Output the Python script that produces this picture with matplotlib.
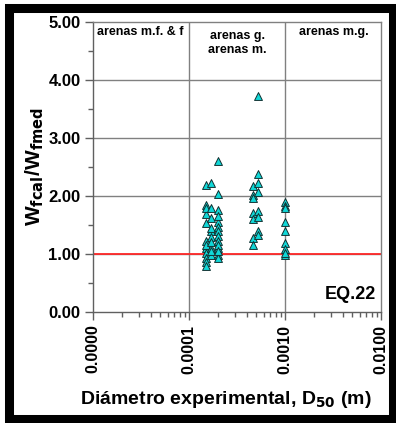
import matplotlib
matplotlib.use("Agg")
import matplotlib.pyplot as plt
from matplotlib.patches import Rectangle
from matplotlib.ticker import LogLocator, NullFormatter, FixedLocator
import numpy as np

plt.rcParams['font.family'] = ['Liberation Sans', 'DejaVu Sans']

# data: D50 (m) and Wfcal/Wfmed
d50_a = [1.5e-4] * 12
r_a = [2.19, 1.85, 1.69, 1.54, 1.22, 1.10, 1.02, 0.93, 0.87, 0.79, 1.80, 1.15]
d50_b = [1.7e-4] * 10
r_b = [2.23, 1.79, 1.62, 1.40, 1.30, 1.10, 0.99, 1.20, 1.45, 1.05]
d50_c = [2.0e-4] * 14
r_c = [2.61, 2.03, 1.76, 1.56, 1.47, 1.39, 1.31, 1.22, 1.10, 0.99, 0.93, 1.65, 1.15, 1.05]
d50_d = [4.6e-4] * 7
r_d = [2.18, 2.01, 1.97, 1.70, 1.61, 1.27, 1.15]
d50_e = [5.2e-4] * 8
r_e = [3.73, 2.38, 2.22, 2.07, 1.75, 1.63, 1.39, 1.33]
d50_f = [1.0e-3] * 9
r_f = [1.90, 1.82, 1.79, 1.56, 1.39, 1.19, 1.09, 0.99, 1.01]

d50 = d50_a + d50_b + d50_c + d50_d + d50_e + d50_f
ratio = r_a + r_b + r_c + r_d + r_e + r_f

xticks = [1e-5, 1e-4, 1e-3, 1e-2]
xticklabels = ["0.0000", "0.0001", "0.0010", "0.0100"]
yticks = [0, 1, 2, 3, 4, 5]
yticklabels = ["0.00", "1.00", "2.00", "3.00", "4.00", "5.00"]
zones = ["arenas m.f. & f", "arenas g.\narenas m.", "arenas m.g."]

fig = plt.figure(figsize=(3.96, 4.23), dpi=100)
ax = fig.add_axes([0.2348, 0.2624, 0.7273, 0.6856])

ax.set_xscale('log')
ax.set_xlim(1e-5, 1e-2)
ax.set_ylim(0, 5)

# grid
for yv in [1, 2, 3, 4]:
    ax.axhline(yv, color='#808080', lw=1.0, zorder=1)
for xv in [1e-4, 1e-3]:
    ax.axvline(xv, color='#808080', lw=1.0, zorder=1)
ax.axhline(1.0, color='#ff2828', lw=1.3, zorder=2)

ax.scatter(d50, ratio, marker='^', s=32, facecolor='#10d8d8',
           edgecolor='#103030', linewidths=0.7, zorder=3)

for s in ax.spines.values():
    s.set_color('#808080')
    s.set_linewidth(1.0)
ax.spines['left'].set_color('#606060')
ax.spines['bottom'].set_color('#606060')

ax.set_xticks(xticks)
ax.set_xticklabels(xticklabels, rotation=90, fontsize=11.5, fontweight='bold')
ax.xaxis.set_minor_locator(LogLocator(base=10, subs=np.arange(2, 10)))
ax.xaxis.set_minor_formatter(NullFormatter())
ax.set_yticks(yticks)
ax.set_yticklabels(yticklabels, fontsize=12, fontweight='bold')
ax.yaxis.set_minor_locator(FixedLocator([0.5, 1.5, 2.5, 3.5, 4.5]))
ax.tick_params(axis='both', which='major', direction='out', length=6,
               width=1, color='#606060', pad=3)
ax.tick_params(axis='both', which='minor', direction='out', length=3.5,
               width=1, color='#606060')

ax.set_xlabel("Diámetro experimental, D$_{\\mathbf{50}}$ (m)", fontsize=14,
              fontweight='bold', va='center')
ax.xaxis.set_label_coords(0.46, -0.30)
ax.set_ylabel("W$_{\\mathbf{fcal}}$/W$_{\\mathbf{fmed}}$", fontsize=15,
              fontweight='bold', labelpad=2)

ax.text(1.1e-5, 4.93, zones[0], fontsize=9, fontweight='bold', va='top', ha='left')
ax.text(3.2e-4, 4.86, zones[1], fontsize=9, fontweight='bold', va='top',
        ha='center', linespacing=1.2)
ax.text(3.2e-3, 4.93, zones[2], fontsize=9, fontweight='bold', va='top', ha='center')
ax.text(8.8e-3, 0.3, "EQ.22", fontsize=13, fontweight='bold', ha='right', va='center')

fig.patches.append(Rectangle((9 / 396, 1 - 419 / 423), 384 / 396, 411 / 423,
                             transform=fig.transFigure, fill=False,
                             edgecolor='black', linewidth=6.5))

fig.savefig("out.png", dpi=100)
